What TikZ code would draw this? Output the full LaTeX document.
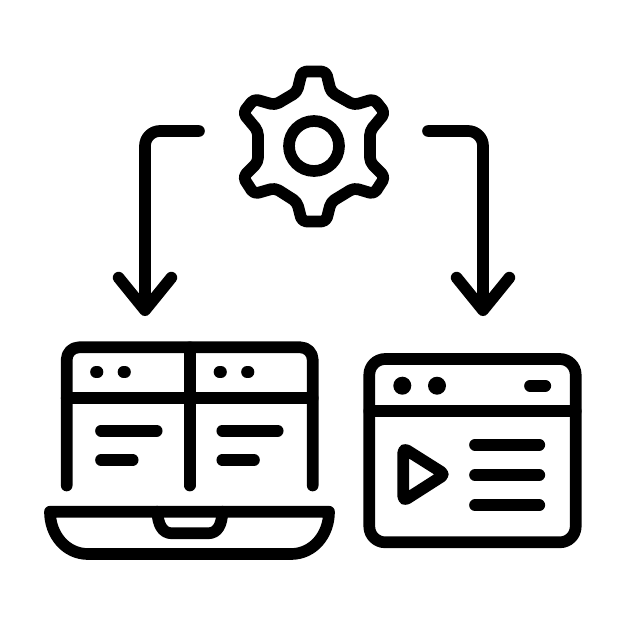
\documentclass[tikz,border=0pt]{standalone}
\usepackage{tikz}
\usetikzlibrary{arrows.meta}

\begin{document}
\begin{tikzpicture}[x=0.04cm,y=-0.04cm, icon/.style={line width=13.3pt,line cap=round,line join=round}, flow/.style={icon,rounded corners=17pt,-{Straight Barb[length=37pt,width=60pt,line cap=round,round]}}]
\useasboundingbox[fill=white] (0,0) rectangle (626,626);

\coordinate (gearleft) at (199,131);
\coordinate (gearright) at (428,131);
\coordinate (bendleft) at (145,131);
\coordinate (bendright) at (483,131);
\coordinate (laptoptop) at (145,316);
\coordinate (browsertop) at (483,316);

% gear
\draw[icon,rounded corners=5pt] (302,71.5) -- (326,71.5) -- (331,92) -- (354,105) -- (374,99) -- (385,113) -- (370,131) -- (370,162) -- (385,177) -- (374,194) -- (354,188) -- (331,202) -- (326,221.5) -- (302,221.5) -- (297,202) -- (275,188) -- (254,194) -- (243,177) -- (258,162) -- (258,131) -- (243,113) -- (254,99) -- (275,105) -- (297,92) -- cycle;
\draw[icon] (314,146) circle (25);

\draw[flow] (gearleft) -- (bendleft) -- (laptoptop);
\draw[flow] (gearright) -- (bendright) -- (browsertop);

% laptop
\draw[icon,rounded corners=14pt] (66.7,485.5) -- (66.7,347.3) -- (312.7,347.3) -- (312.7,485.5);
\draw[icon] (189.7,347.3) -- (189.7,485.5);
\draw[icon] (66.7,398.3) -- (312.7,398.3);
\foreach \dotx in {96,123.5,219.5,247} \draw[icon] (\dotx,372) -- +(1.5,0);
\draw[icon] (101,430.7) -- (156.7,430.7);
\draw[icon] (101,460) -- (132.7,460);
\draw[icon] (222.3,430.7) -- (277.7,430.7);
\draw[icon] (222.3,460) -- (254,460);
\draw[icon] (50,511.7) -- (329,511.7) .. controls (329,535) and (313,554) .. (291,554) -- (88,554) .. controls (66,554) and (50,535) .. (50,511.7) -- cycle;
\draw[icon] (157.3,511.7) .. controls (158,524) and (162,533.3) .. (172,533.3) -- (208,533.3) .. controls (218,533.3) and (222,524) .. (222.3,511.7);

% browser
\draw[icon,rounded corners=18pt] (369.3,359) rectangle (575.7,542.3);
\draw[icon] (369.3,411.3) -- (575.7,411.3);
\fill (402.3,385.7) circle (9);
\fill (437,385.7) circle (9);
\draw[icon] (530,385.7) -- (545.3,385.7);
\draw[icon,rounded corners=5pt] (403.3,448) -- (445,474.3) -- (403.3,501) -- cycle;
\foreach \linky in {444.7,475,505.3} \draw[icon] (475,\linky) -- (539.3,\linky);
\end{tikzpicture}
\end{document}
